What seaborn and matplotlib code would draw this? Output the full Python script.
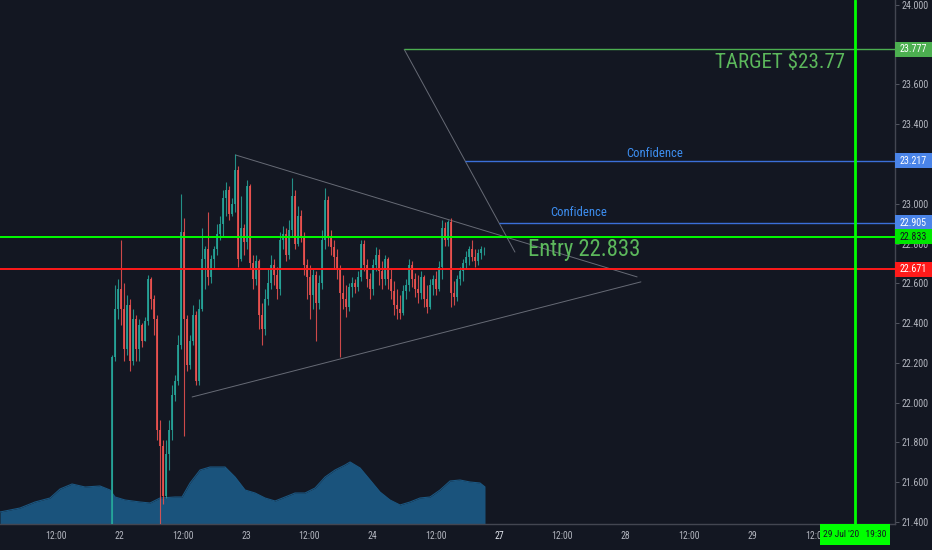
import numpy as np
import pandas as pd

import matplotlib
matplotlib.use('AGG')
import matplotlib.pyplot as plt
import matplotlib.transforms as mtransforms
from matplotlib import font_manager
from matplotlib.patches import Rectangle
import seaborn as sns

BG = '#131722'
sns.set_theme(style="dark", rc={
        "axes.facecolor": BG,
        "figure.facecolor": BG,
        "axes.edgecolor": "#434651",
        "xtick.color": "#b2b5be",
        "ytick.color": "#b2b5be",
        "axes.grid": False})
avail = {f.name for f in font_manager.fontManager.ttflist}
NARROW = next((n for n in ['Liberation Sans Narrow', 'Roboto Condensed',
                           'DejaVu Sans Condensed', 'Liberation Sans'] if n in avail),
              'DejaVu Sans')
plt.rcParams['font.family'] = [NARROW, 'DejaVu Sans']

# ---- data (x axis in trading half-days, 0 = 21 Jul 12:00) ----
first_open = 20.90
close = [22.23, 22.47, 22.57, 22.47, 22.27, 22.49, 22.21, 22.42, 22.27, 22.39,
         22.31, 22.41, 22.62, 22.52, 22.42, 21.86, 21.78, 21.53, 21.74, 21.86,
         22.04, 22.11, 22.29, 22.86, 22.42, 22.19, 22.31, 22.44, 22.11, 22.47,
         22.72, 22.77, 22.63, 22.72, 22.77, 22.85, 22.90, 23.03, 23.07, 22.95,
         23.00, 23.17, 22.72, 22.88, 22.81, 23.09, 22.70, 22.62, 22.71, 22.44,
         22.37, 22.52, 22.60, 22.69, 22.64, 22.57, 22.82, 22.85, 22.74, 22.87,
         23.04, 22.80, 22.94, 22.83, 22.69, 22.63, 22.54, 22.64, 22.50, 22.60,
         22.82, 23.02, 22.83, 22.78, 22.73, 22.67, 22.55, 22.52, 22.48, 22.58,
         22.60, 22.58, 22.63, 22.80, 22.69, 22.62, 22.57, 22.69, 22.74, 22.66,
         22.62, 22.72, 22.62, 22.56, 22.49, 22.47, 22.45, 22.56, 22.59, 22.69,
         22.62, 22.57, 22.55, 22.63, 22.52, 22.48, 22.59, 22.62, 22.57, 22.68,
         22.88, 22.82, 22.91, 22.55, 22.53, 22.62, 22.66, 22.70, 22.73, 22.77,
         22.73, 22.71, 22.75, 22.77, 22.77]
high = [22.24, 22.59, 22.62, 22.82, 22.60, 22.54, 22.52, 22.47, 22.44, 22.42,
        22.40, 22.43, 22.64, 22.63, 22.54, 22.44, 21.91, 21.81, 21.81, 21.91,
        22.09, 22.14, 22.34, 23.05, 22.93, 22.44, 22.34, 22.49, 22.46, 22.52,
        22.88, 22.79, 22.96, 22.74, 22.79, 22.90, 22.94, 23.07, 23.11, 23.09,
        23.03, 23.25, 23.19, 23.04, 22.90, 23.12, 23.10, 22.74, 22.74, 22.72,
        22.50, 22.57, 22.67, 22.74, 22.72, 22.68, 22.86, 22.89, 22.88, 22.92,
        23.13, 23.07, 22.99, 22.97, 22.86, 22.72, 22.69, 22.67, 22.66, 22.64,
        22.87, 23.08, 23.04, 22.87, 22.82, 22.77, 22.69, 22.64, 22.59, 22.60,
        22.63, 22.62, 22.66, 22.82, 22.82, 22.72, 22.65, 22.72, 22.78, 22.77,
        22.71, 22.74, 22.73, 22.67, 22.61, 22.57, 22.54, 22.59, 22.62, 22.72,
        22.71, 22.65, 22.64, 22.66, 22.64, 22.59, 22.62, 22.64, 22.66, 22.71,
        22.92, 22.91, 22.92, 22.93, 22.61, 22.64, 22.68, 22.72, 22.76, 22.79,
        22.82, 22.77, 22.77, 22.79, 22.78]
low = [20.85, 22.21, 22.42, 22.39, 22.21, 22.24, 22.16, 22.19, 22.21, 22.21,
       22.28, 22.31, 22.39, 22.47, 22.34, 21.81, 21.20, 21.49, 21.52, 21.66,
       21.81, 22.01, 22.09, 22.27, 21.83, 22.16, 22.17, 22.29, 22.09, 22.09,
       22.46, 22.57, 22.59, 22.60, 22.67, 22.74, 22.82, 22.84, 22.94, 22.92,
       22.94, 22.96, 22.68, 22.71, 22.74, 22.77, 22.67, 22.57, 22.59, 22.37,
       22.29, 22.34, 22.49, 22.57, 22.59, 22.52, 22.54, 22.77, 22.71, 22.72,
       22.84, 22.77, 22.79, 22.81, 22.64, 22.52, 22.42, 22.47, 22.31, 22.47,
       22.57, 22.77, 22.79, 22.74, 22.67, 22.62, 22.23, 22.47, 22.43, 22.46,
       22.53, 22.55, 22.56, 22.61, 22.66, 22.58, 22.52, 22.54, 22.66, 22.59,
       22.57, 22.59, 22.57, 22.52, 22.44, 22.42, 22.42, 22.44, 22.52, 22.56,
       22.58, 22.53, 22.50, 22.52, 22.48, 22.45, 22.47, 22.54, 22.54, 22.56,
       22.62, 22.79, 22.79, 22.48, 22.49, 22.51, 22.59, 22.61, 22.67, 22.69,
       22.71, 22.68, 22.69, 22.72, 22.74]
bar_start = 0.885     # first visible bar, 21 Jul late session
bar_step = 0.0474     # one bar in half-day units

# smoothed volume (moving average), arbitrary units
vol_times = [-0.885, -0.569, -0.332, -0.095, 0.063, 0.253, 0.458, 0.695, 0.853, 0.932,
             1.090, 1.327, 1.485, 1.643, 1.880, 1.991, 2.117, 2.275, 2.433, 2.670,
             2.828, 2.986, 3.144, 3.302, 3.460, 3.618, 3.776, 3.934, 4.092, 4.250,
             4.408, 4.566, 4.645, 4.803, 4.961, 5.118, 5.276, 5.434, 5.592, 5.750,
             5.908, 6.066, 6.224, 6.382, 6.540, 6.698, 6.777]
vol_ma = [12, 16, 22, 26, 35, 40, 37, 38, 34, 27, 24, 22, 21, 26, 27, 27, 41, 54, 57, 57,
          47, 34, 31, 26, 23, 27, 31, 31, 36, 47, 54, 59, 62, 56, 44, 32, 24, 19, 22, 26,
          27, 34, 43, 44, 42, 41, 37]

tick_labels = ['12:00', '22', '12:00', '23', '12:00', '24', '12:00',
               '27', '12:00', '28', '12:00', '29', '12:00']

entry = 22.833
stop = 22.671
target = 23.777
conf_hi = 23.217
conf_lo = 22.905
target_time = 12.625   # 29 Jul '20 19:30

# drawings (time, price)
upper_tl = ([2.84, 9.18], [23.245, 22.632])
lower_tl = ([2.15, 9.24], [22.028, 22.607])
diag_tl = ([5.50, 7.25], [23.777, 22.757])

df = pd.DataFrame({'high': high, 'low': low, 'close': close})
df['open'] = [first_open] + close[:-1]
df['t'] = bar_start + bar_step * np.arange(len(df))
df['up'] = df['close'] >= df['open']

# ---- figure ----
fig = plt.figure(figsize=(9.32, 5.5), dpi=100)
rect = [0, 26 / 550, 895 / 932, 524 / 550]
ax_vol = fig.add_axes(rect)
ax = fig.add_axes(rect, sharex=ax_vol)
ax.patch.set_alpha(0)

XLIM = (-0.885, 13.254)
YLIM = (21.389, 24.025)

# volume MA area
vdf = pd.DataFrame({'t': vol_times, 'v': vol_ma})
sns.lineplot(data=vdf, x='t', y='v', ax=ax_vol, color='#1b5782', linewidth=0.8)
ax_vol.fill_between(vdf['t'], 0, vdf['v'], color='#1b5782', alpha=0.95, lw=0)
ax_vol.set_ylim(0, 524)
ax_vol.set_axis_off()

# candles
UP, DOWN = '#26a69a', '#ef5350'
cols = np.where(df['up'], UP, DOWN)
ax.vlines(df['t'], df['low'], df['high'], colors=cols, lw=0.8, alpha=0.85, zorder=3)
ax.bar(df['t'], (df['close'] - df['open']).abs().clip(lower=0.004),
       bottom=df[['open', 'close']].min(axis=1), width=bar_step * 0.72,
       color=cols, alpha=0.85, lw=0, zorder=3)

# trend lines
for xs, ys in (upper_tl, lower_tl, diag_tl):
    ax.plot(xs, ys, color='#8a8e99', lw=0.7, alpha=0.7, zorder=2)

# levels
ax.axhline(entry, color='#00ff00', lw=1.4, zorder=4)
ax.axhline(stop, color='#ff1a1a', lw=1.4, zorder=4)
ax.hlines(target, diag_tl[0][0], XLIM[1], color='#4caf50', lw=1, zorder=4)
ax.hlines(conf_hi, 6.46, XLIM[1], color='#3b6fd8', lw=1, zorder=4)
ax.hlines(conf_lo, 7.00, XLIM[1], color='#3b6fd8', lw=1, zorder=4)
ax.axvline(target_time, color='#00ff00', lw=2, zorder=5)

notes = [
    ax.text(9.46, 23.255, 'Confidence', color='#3d8ef0', fontsize=8.5,
            ha='center', va='center'),
    ax.text(8.25, 22.954, 'Confidence', color='#3d8ef0', fontsize=8.5,
            ha='center', va='center'),
    ax.text(7.46, 22.768, 'Entry 22.833', color='#5cb85c', fontsize=16.5,
            ha='left', va='center'),
    ax.text(10.41, 23.713, 'TARGET $23.77', color='#5cb85c', fontsize=16.5,
            ha='left', va='center'),
]
note_widths = [56, 56, 112, 130]   # pixel widths seen in the reference

ax.set_xlim(*XLIM)
ax.set_ylim(*YLIM)

# price tags on the scale hide the ticks they sit on
tags = [(target, '#4caf50', 'white'), (conf_hi, '#4a84e8', 'white'),
        (conf_lo, '#4a84e8', 'white'), (entry, '#00e600', '#131722'),
        (stop, '#ff1a1a', 'white')]


def price_fmt(v, pos):
    if any(abs(v - p) < 0.025 for p, _, _ in tags):
        return ''
    return f'{v:.3f}'


# axes
ax.set_xticks(range(len(tick_labels)))
ax.set_xticklabels(tick_labels)
ax.set_yticks(np.arange(21.4, 24.01, 0.2))
ax.yaxis.set_major_formatter(matplotlib.ticker.FuncFormatter(price_fmt))
ax.yaxis.tick_right()
ax.tick_params(axis='both', labelsize=7, length=3, width=0.6,
               color='#5d606b', pad=2, direction='out')
ax.tick_params(axis='y', labelsize=7.2)
for lab in ax.get_xticklabels():
    if lab.get_text() == '27':
        lab.set_color('#e0e3eb')
for s in ('top', 'left'):
    ax.spines[s].set_visible(False)
for s in ('bottom', 'right'):
    ax.spines[s].set_color('#434651')
    ax.spines[s].set_linewidth(1)

ytrans = mtransforms.blended_transform_factory(ax.transAxes, ax.transData)
tag_w = 37 / 895
tag_h = 15 / 198.8
for price, bg, fg in tags:
    ax.add_patch(Rectangle((1.0, price - tag_h / 2), tag_w, tag_h, transform=ytrans,
                           fc=bg, ec='none', clip_on=False, zorder=9))
    ax.text(1.0 + tag_w / 2, price, f'{price:.3f}', transform=ytrans, fontsize=7.2,
            color=fg, ha='center', va='center', zorder=10, clip_on=False)

xtrans = mtransforms.blended_transform_factory(ax.transData, ax.transAxes)
box_h = 21 / 524
ax.add_patch(Rectangle((12.07, -box_h), 1.105, box_h, transform=xtrans,
                       fc='#00ff00', ec='none', clip_on=False, zorder=9))
ax.text(target_time, -box_h / 2, "29 Jul '20   19:30", transform=xtrans,
        fontsize=6.8, color='#131722', ha='center', va='center', zorder=10,
        clip_on=False)

# size the free-text notes to the widths they have in the reference
renderer = fig.canvas.get_renderer()
for t, w in zip(notes, note_widths):
    bb = t.get_window_extent(renderer)
    t.set_fontsize(t.get_fontsize() * w / bb.width)

fig.savefig('out.png', dpi=100, facecolor=BG)
